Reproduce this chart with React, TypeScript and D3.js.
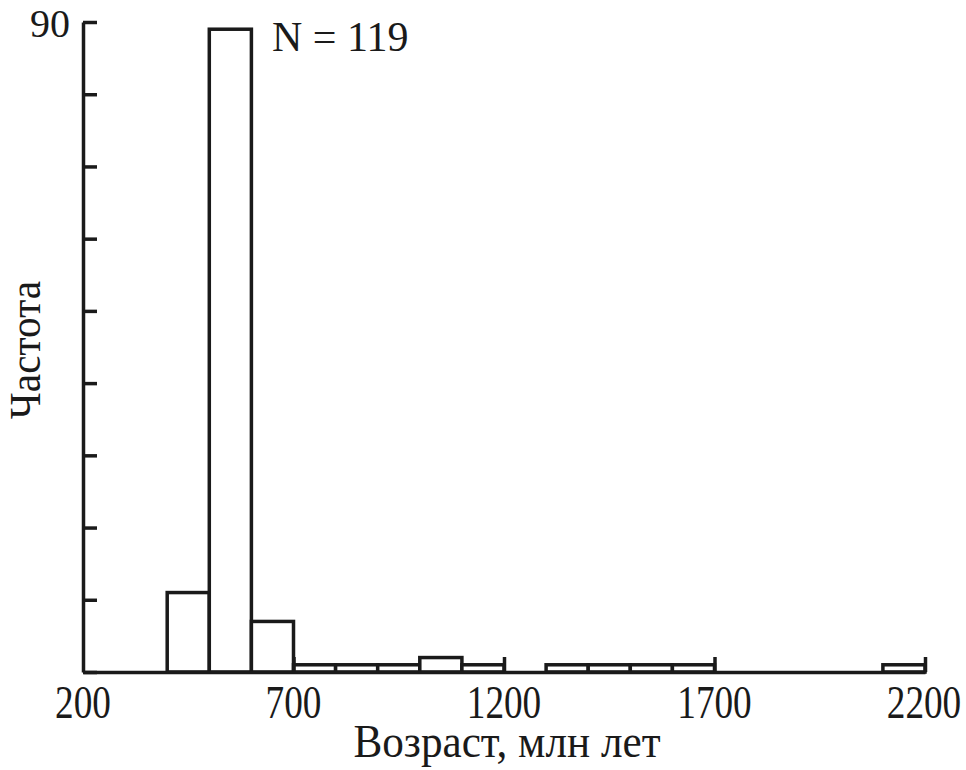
import React, { useEffect, useRef } from "react";
import * as d3 from "d3";

const binStarts = [400, 500, 600, 700, 800, 900, 1000, 1100, 1300, 1400, 1500, 1600, 2100];
const binCounts = [11, 89, 7, 1, 1, 1, 2, 1, 1, 1, 1, 1, 1];
const binWidth = 100;
const xTickValues = [200, 700, 1200, 1700, 2200];
const yTickValues = [0, 10, 20, 30, 40, 50, 60, 70, 80, 90];
const xTitle = "Возраст, млн лет";
const yTitle = "Частота";
const note = "N = 119";

const W = 966, H = 770;
const L = 83, R = 925, T = 22, B = 672;

export default function App() {
  const ref = useRef<SVGSVGElement>(null);
  const x = d3.scaleLinear().domain([200, 2200]).range([L, R]);
  const y = d3.scaleLinear().domain([0, 90]).range([B, T]);

  useEffect(() => {
    const svg = d3.select(ref.current);
    svg.selectAll(".ax").remove();
    const gy = svg.append("g").attr("class", "ax").attr("transform", `translate(${L},0)`);
    gy.call(d3.axisLeft(y).tickValues(yTickValues).tickSize(-14).tickSizeOuter(0).tickFormat(() => ""));
    const gx = svg.append("g").attr("class", "ax").attr("transform", `translate(0,${B})`);
    gx.call(d3.axisBottom(x).tickValues(xTickValues.slice(1)).tickSize(-15).tickSizeOuter(0).tickFormat(() => ""));
    svg.selectAll(".ax path").attr("stroke", "#1a1a1a").attr("stroke-width", 3.5);
    svg.selectAll(".ax line").attr("stroke", "#1a1a1a").attr("stroke-width", 3.5);
  }, []);

  const font = "'Liberation Serif', 'Times New Roman', serif";
  return (
    <svg ref={ref} width={W} height={H} style={{ position: "absolute", left: 0, top: 0, background: "#fff" }}>
      {binStarts.map((s, i) => (
        <rect
          key={s}
          x={x(s)}
          y={y(binCounts[i])}
          width={x(s + binWidth) - x(s)}
          height={y(0) - y(binCounts[i])}
          fill="#fff"
          stroke="#1a1a1a"
          strokeWidth={3.5}
        />
      ))}
      {xTickValues.map((v) => (
        <text key={v} transform={`translate(${v === 2200 ? x(v) - 1 : x(v)},718) scale(0.81,1)`} textAnchor="middle"
          fontFamily={font} fontSize={46} fill="#1a1a1a">{v}</text>
      ))}
      <text x={70} y={37} textAnchor="end" fontFamily={font} fontSize={40} fill="#1a1a1a">{yTickValues[yTickValues.length - 1]}</text>
      <text transform={`translate(${(L + R) / 2 + 3},757) scale(0.92,1)`} textAnchor="middle" fontFamily={font}
        fontSize={47} fill="#1a1a1a">{xTitle}</text>
      <text transform={`translate(40,350) rotate(-90) scale(0.92,1)`} textAnchor="middle" fontFamily={font}
        fontSize={45} fill="#1a1a1a">{yTitle}</text>
      <text x={272} y={51} fontFamily={font} fontSize={42} fill="#1a1a1a">{note}</text>
    </svg>
  );
}
